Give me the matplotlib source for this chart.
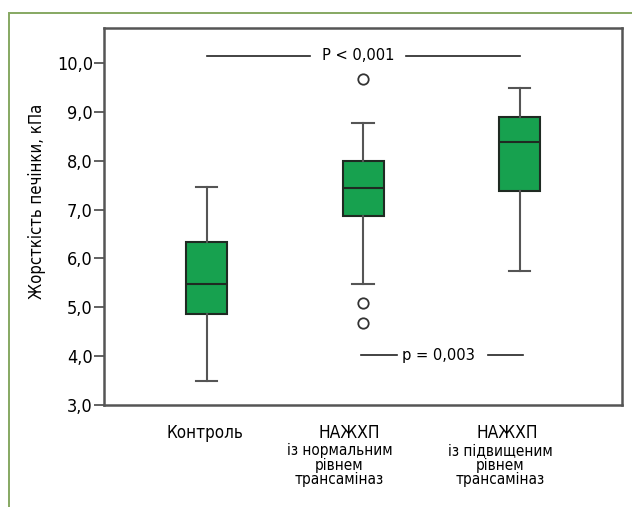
"""Box plot of liver stiffness in three groups."""

import os

import matplotlib

matplotlib.use("Agg")
import matplotlib.pyplot as plt
from matplotlib import font_manager
from matplotlib.font_manager import FontProperties
from matplotlib.patches import Rectangle

# data
groups = ["Контроль", "НАЖХП", "НАЖХП"]
subtitles = ["", "із нормальним\nрівнем\nтрансаміназ", "із підвищеним\nрівнем\nтрансаміназ"]
whislo = [3.49, 5.47, 5.75]
q1 = [4.87, 6.88, 7.38]
med = [5.48, 7.45, 8.39]
q3 = [6.33, 8.00, 8.89]
whishi = [7.47, 8.77, 9.49]
fliers = [[], [9.68, 5.08, 4.67], []]
yticks = [3.0, 4.0, 5.0, 6.0, 7.0, 8.0, 9.0, 10.0]
ylabel = "Жорсткість печінки, кПа"
p_all = "P < 0,001"
p_pair = "p = 0,003"

GREEN = "#17a14f"
GRAY = "#555555"


def narrow_font_path():
    files = {os.path.basename(f.fname): f.fname for f in font_manager.fontManager.ttflist}
    for wanted in ("LiberationSansNarrow-Regular.ttf", "DejaVuSansCondensed.ttf",
                   "LiberationSans-Regular.ttf"):
        if wanted in files:
            return files[wanted]
    return None


FONT_PATH = narrow_font_path()


def font(size):
    if FONT_PATH:
        return FontProperties(fname=FONT_PATH, size=size)
    return FontProperties(family="DejaVu Sans", size=size)


def main() -> None:
    fig = plt.figure(figsize=(6.32, 5.07), dpi=100)
    fig.patches.append(Rectangle((0.0147, -0.1), 1.2, 1.075, transform=fig.transFigure,
                                 fill=False, edgecolor="#86a862", linewidth=1.4))
    ax = fig.add_axes([0.1646, 0.2012, 0.8196, 0.7436])

    stats = []
    for i in range(len(groups)):
        stats.append(dict(whislo=whislo[i], q1=q1[i], med=med[i], q3=q3[i],
                          whishi=whishi[i], fliers=fliers[i]))
    positions = [1, 2, 3]
    ax.bxp(stats, positions=positions, widths=0.262, patch_artist=True,
           boxprops=dict(facecolor=GREEN, edgecolor="#1f2a22", linewidth=1.5),
           medianprops=dict(color="#1f2a22", linewidth=1.5),
           whiskerprops=dict(color=GRAY, linewidth=1.5),
           capprops=dict(color=GRAY, linewidth=1.5),
           capwidths=0.14,
           flierprops=dict(marker="o", markersize=7.5, markerfacecolor="white",
                           markeredgecolor="#333333", markeredgewidth=1.3))

    ax.set_xlim(0.345, 3.655)
    ax.set_ylim(3.0, 10.72)
    ax.set_yticks(yticks)
    ax.set_yticklabels([f"{v:.1f}".replace(".", ",") for v in yticks], fontproperties=font(13))
    ax.tick_params(axis="y", length=7, width=1.3, color=GRAY, pad=1)
    ax.set_xticks([])
    for spine in ax.spines.values():
        spine.set_color(GRAY)
        spine.set_linewidth(1.8)
    ax.set_ylabel(ylabel, fontproperties=font(12), labelpad=8, y=0.54)

    # group labels under the axis
    tr = ax.get_xaxis_transform()
    label_shift = [-0.012, -0.09, -0.08]
    sub_shift = [0.0, -0.06, -0.045]
    for i, name in enumerate(groups):
        x = positions[i] + label_shift[i]
        size = 12.2 if i == 0 else 12.5
        ax.text(x, -0.05, name, transform=tr, ha="center", va="top", fontproperties=font(size))
        if subtitles[i]:
            ax.text(x + sub_shift[i], -0.102, subtitles[i], transform=tr, ha="center",
                    va="top", fontproperties=font(11), linespacing=0.93)

    # significance brackets
    y_all = 10.15
    ax.plot([positions[0], 1.66], [y_all, y_all], color="#222222", lw=1.2)
    ax.plot([2.275, positions[2]], [y_all, y_all], color="#222222", lw=1.2)
    ax.text(1.97, y_all, p_all, ha="center", va="center", fontproperties=font(11.8))

    y_pair = 4.02
    ax.plot([positions[1] - 0.01, 2.217], [y_pair, y_pair], color="#222222", lw=1.2)
    ax.plot([2.8, positions[2] + 0.02], [y_pair, y_pair], color="#222222", lw=1.2)
    ax.text(2.485, y_pair, p_pair, ha="center", va="center", fontproperties=font(11.8))

    fig.savefig("out.png", dpi=100)
    plt.close(fig)


if __name__ == "__main__":
    main()
